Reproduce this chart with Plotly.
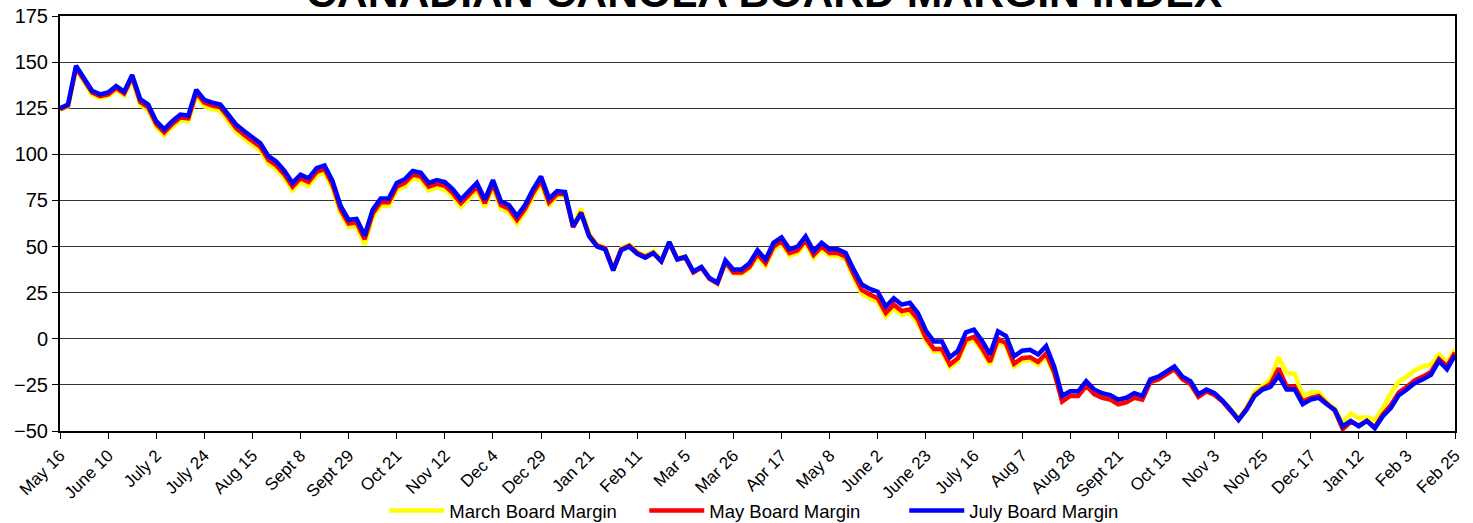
import plotly.graph_objects as go

tick_labels = ["May 16", "June 10", "July 2", "July 24", "Aug 15", "Sept 8", "Sept 29",
               "Oct 21", "Nov 12", "Dec 4", "Dec 29", "Jan 21", "Feb 11", "Mar 5",
               "Mar 26", "Apr 17", "May 8", "June 2", "June 23", "July 16", "Aug 7",
               "Aug 28", "Sept 21", "Oct 13", "Nov 3", "Nov 25", "Dec 17", "Jan 12",
               "Feb 3", "Feb 25"]
points_per_label = 6

july = [125, 127, 148, 141, 134.5, 132.5, 133.5, 137, 134, 143,
        130, 127, 118, 113.5, 118, 121.5, 121, 135, 129.5, 128,
        127, 121.5, 116, 112.5, 109, 106, 99, 96, 91, 84.5,
        89, 87, 92.5, 94, 85.5, 72, 64.5, 65, 56, 70,
        76, 76, 84.5, 86.5, 91, 90, 84.5, 86, 85, 81,
        75.5, 80, 84.5, 75.5, 86, 74.5, 72.5, 66.5, 72.5, 81,
        88, 76, 80, 79.5, 61, 68, 55.5, 50, 48.5, 37,
        48, 50, 46, 44, 46.5, 42, 52.5, 43, 44.5, 36.5,
        39, 33, 30.5, 42.5, 37.5, 37.5, 41, 48, 43, 52,
        55, 48.5, 50, 55.5, 47.5, 52, 48.5, 48.5, 46.5, 37.5,
        29.5, 27, 25.5, 17.5, 22, 18.5, 19.5, 14, 4.5, -1.5,
        -1.5, -10, -6.5, 3.5, 5, -1, -8.5, 4, 1.5, -9.5,
        -6.5, -6, -8.5, -4, -15, -31, -28.5, -28.5, -23, -27.5,
        -29.5, -30.5, -33, -32, -29.5, -31, -22, -20.5, -17.5, -15,
        -20.5, -23, -30, -27.5, -29.5, -33.5, -38.5, -44, -38.5, -31,
        -27.5, -26, -20, -27.5, -27.5, -35.5, -33, -32, -35.5, -38.5,
        -47.5, -44.5, -47.5, -44.5, -48.5, -42, -37.5, -30.5, -27.5, -24,
        -22, -19.5, -12, -16.5, -9]

may = [124.5, 126.5, 147, 140, 133.5, 131.5, 132.5, 136, 133, 142,
       128.5, 125.5, 116.5, 112, 116.5, 120, 119.5, 133.5, 128, 126.5,
       125.5, 120, 114, 110.5, 107, 104, 97, 94, 89, 82.5,
       87, 85, 90.5, 92, 83.5, 70, 62.5, 63, 54, 68,
       74, 74, 82.5, 84.5, 89, 88, 82.5, 84, 83, 79,
       73.5, 78, 82.5, 73.5, 84, 72.5, 70.5, 64.5, 70.5, 79,
       86, 74, 78.5, 78.5, 60.5, 68.5, 56, 50.5, 49, 37.5,
       48.5, 50.5, 46.5, 44.5, 46.5, 42, 52, 43, 44, 36,
       38.5, 32.5, 30, 41.5, 36, 36, 39, 46, 41, 50,
       53, 46.5, 48, 53.5, 45.5, 50, 46.5, 46.5, 44.5, 35,
       26.5, 24, 22, 14, 18.5, 15, 16, 10.5, 0.5, -5.5,
       -5.5, -14, -10.5, -0.5, 1, -5, -12.5, 0, -2.5, -13.5,
       -10.5, -10, -12.5, -8, -18, -34, -31, -31, -25.5, -30,
       -32, -33, -35.5, -34.5, -32, -33, -23.5, -22, -19, -16.5,
       -22, -24.5, -31.5, -28.5, -30.5, -34, -39, -44, -38, -30.5,
       -27, -24.5, -16, -26, -26, -34, -32, -31, -35, -39,
       -49, -45, -47, -44.5, -48, -41, -36, -29, -26, -22.5,
       -20.5, -18, -11, -15, -7.5]

march = [124, 126, 146.5, 139, 132.5, 130.5, 131.5, 135, 132, 141,
         127, 124, 115, 110.5, 115, 118.5, 118, 132, 126, 124.5,
         123.5, 118, 112, 108.5, 105, 102, 95, 92, 87, 80.5,
         85, 83, 88.5, 90, 81.5, 68, 60.5, 61, 51, 66,
         72, 72, 80.5, 82.5, 87, 86, 80.5, 82, 81, 77,
         71.5, 76, 80.5, 71.5, 82, 70.5, 68.5, 62.5, 68.5, 77,
         84, 72, 77.5, 78, 61, 70.5, 57, 51, 49.5, 38,
         49, 51, 47, 45, 47.5, 43, 52, 44, 44.5, 36,
         38.5, 33, 30, 41, 35.5, 35, 38, 44.5, 39.5, 48.5,
         51.5, 45, 46.5, 52, 44, 48.5, 45, 45, 43, 33,
         24.5, 22, 20, 12, 16.5, 13, 14, 8.5, -1, -7,
         -7, -15.5, -12, -2, -0.5, -6.5, -14, -1.5, -4, -15,
         -12, -11.5, -14, -9.5, -19, -33, -30.5, -30.5, -25, -29.5,
         -31.5, -32.5, -35, -34, -31.5, -32.5, -23, -21.5, -18.5, -16,
         -21.5, -24, -31, -28, -30, -33.5, -38, -43, -37.5, -28.5,
         -25.5, -22, -10, -18.5, -19, -31, -29, -29, -34.5, -37.5,
         -45.5, -40.5, -43, -42.5, -44, -37.5, -29.5, -23, -20.5, -17,
         -15, -14, -8.5, -13, -5.5]

y_ticks = [-50, -25, 0, 25, 50, 75, 100, 125, 150, 175]

x = list(range(len(july)))
tick_positions = [i * points_per_label for i in range(len(tick_labels))]

FONT = "Liberation Sans, Arial, sans-serif"

fig = go.Figure()
fig.add_trace(go.Scatter(x=x, y=march, mode="lines", name="March Board Margin",
                         line=dict(color="#FFFF00", width=4.5)))
fig.add_trace(go.Scatter(x=x, y=may, mode="lines", name="May Board Margin",
                         line=dict(color="#FF0000", width=4.5)))
fig.add_trace(go.Scatter(x=x, y=july, mode="lines", name="July Board Margin",
                         line=dict(color="#0000FF", width=4.5)))

fig.update_layout(
    width=1473, height=523,
    margin=dict(l=60, r=18, t=16, b=92, autoexpand=False),
    paper_bgcolor="white", plot_bgcolor="white",
    font=dict(family=FONT, color="black"),
    showlegend=True,
    legend=dict(orientation="h", x=0.512, xanchor="center", yref="paper",
                y=-0.193, yanchor="middle", font=dict(size=18.5, family=FONT),
                bgcolor="rgba(0,0,0,0)", traceorder="normal",
                itemwidth=55, entrywidth=190, entrywidthmode="pixels"),
    annotations=[dict(text="<b>CANADIAN CANOLA BOARD MARGIN INDEX</b>",
                      xref="paper", yref="paper", x=0.505, y=1, yanchor="bottom",
                      yshift=-2, showarrow=False,
                      font=dict(size=42.7, family=FONT, color="black"))],
)
fig.update_xaxes(range=[0, len(july) - 1], tickmode="array", tickvals=tick_positions,
                 ticktext=tick_labels, tickangle=-45, ticks="outside", ticklen=6,
                 tickwidth=1, tickcolor="black", showgrid=False, zeroline=False,
                 showline=True, linecolor="black", linewidth=2, mirror=True,
                 automargin=False, ticklabeloverflow="allow",
                 tickfont=dict(size=17, family=FONT))
fig.update_yaxes(range=[-50, 175], tickmode="array", tickvals=y_ticks,
                 ticks="outside", ticklen=6, tickwidth=1, tickcolor="black",
                 showgrid=True, gridcolor="#333333", gridwidth=1, zeroline=False,
                 showline=True, linecolor="black", linewidth=2, mirror=True,
                 automargin=False, ticklabeloverflow="allow",
                 tickfont=dict(size=20, family=FONT))

# remove the page's default 8px body margin so the figure fills the window exactly
fig.write_html("out.html", config={"displayModeBar": False},
               post_script="document.body.style.margin='0';")
